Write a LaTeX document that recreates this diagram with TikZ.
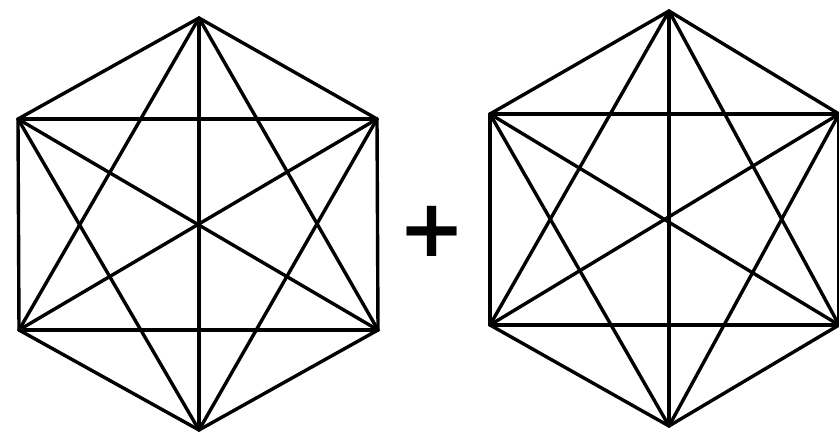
\documentclass[tikz,border=0pt]{standalone}
\usepackage{fontspec}
\newfontfamily\plusfont{DejaVu Sans}
\tikzset{edge/.style={line width=3.4pt, line cap=round, line join=round, black}}
\begin{document}
\begin{tikzpicture}[x=1pt,y=-1pt]
\useasboundingbox (0,0) rectangle (839,434);
% left graph
\coordinate (a1) at (199,18);
\coordinate (a2) at (377,119);
\coordinate (a3) at (378,330);
\coordinate (a4) at (199,430);
\coordinate (a5) at (19,330);
\coordinate (a6) at (18,119);
% right graph
\coordinate (b1) at (669,11);
\coordinate (b2) at (839,114);
\coordinate (b3) at (839,325);
\coordinate (b4) at (669,426);
\coordinate (b5) at (490,325);
\coordinate (b6) at (490,114);
\foreach \g in {a,b}{
  \foreach \i in {1,...,6}{
    \foreach \j in {1,...,6}{
      \ifnum\i<\j
        \draw[edge] (\g\i) -- (\g\j);
      \fi
    }
  }
}
\node[inner sep=0pt, font=\plusfont\bfseries\fontsize{80}{80}\selectfont] (plus) at (432,231) {+};
\end{tikzpicture}
\end{document}
